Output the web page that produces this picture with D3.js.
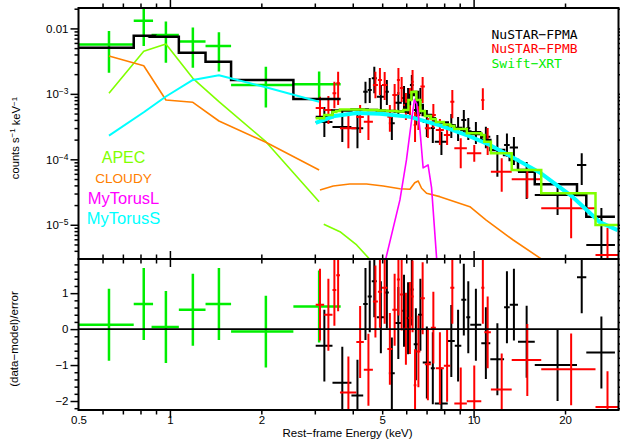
<!DOCTYPE html>
<html>
<head>
<meta charset="utf-8">
<script src="https://cdn.jsdelivr.net/npm/d3@7"></script>
<style>
  body { margin: 0; background: #fff; }
  svg { display: block; font-family: "Liberation Sans", Arial, Helvetica, sans-serif; }
</style>
</head>
<body>
<svg id="chart" width="620" height="443"></svg>
<script>
// ---------- Swift-XRT (bin centre / half width in keV, counts s^-1 keV^-1) ----------
const xrtE     = [0.63, 0.82, 0.97, 1.19, 1.45, 2.07, 3.10];
const xrtDE    = [0.13, 0.06, 0.10, 0.12, 0.14, 0.48, 0.55];
const xrtRate  = [5.7e-3, 1.31e-2, 7.9e-3, 6.3e-3, 5.4e-3, 1.37e-3, 1.40e-3];
const xrtLo    = [2.1e-3, 5.4e-3, 3.0e-3, 2.5e-3, 2.2e-3, 6.2e-4, 8.1e-4];
const xrtHi    = [9.1e-3, 2.4e-2, 1.27e-2, 1.03e-2, 8.7e-3, 2.6e-3, 2.2e-3];
const xrtModel = [5.07e-3, 7.74e-3, 7.47e-3, 4.26e-3, 3.10e-3, 1.63e-3, 8.36e-4];
const xrtResid = [0.12, 0.70, 0.06, 0.54, 0.70, -0.07, 0.63];
// model components folded through the XRT response
const xrtApec   = [1.02e-3, 4.47e-3, 5.78e-3, 1.73e-3, 7.59e-4, 1.86e-4, 2.25e-5];
const xrtCloudy = [3.79e-3, 2.69e-3, 8.06e-4, 7.43e-4, 3.85e-4, 1.82e-4, 6.87e-5];
const xrtTorusS = [2.30e-4, 5.23e-4, 9.12e-4, 1.63e-3, 1.92e-3, 1.26e-3, 7.59e-4];

// ---------- NuSTAR FPMA (bin edges in keV) ----------
const fpmaEdges = [3.02, 3.43, 3.96, 4.33, 4.48, 4.62, 4.80, 5.10, 5.26, 5.50, 5.80, 6.00, 6.17, 6.35, 6.56,
                   6.80, 7.23, 7.45, 8.22, 8.67, 9.11, 9.46, 9.75, 10.6, 11.35, 12.6, 13.15, 14.0, 15.9, 21.9, 23.5, 29.2];
const fpmaRate  = [3.72e-4, 3.12e-4, 2.98e-4, 1.08e-3, 1.15e-3, 1.73e-3, 9.06e-4, 1.08e-3, 3.55e-4, 7.33e-4,
                   8.65e-4, 8.06e-4, 1.37e-3, 5.67e-4, 8.06e-4, 3.72e-4, 3.01e-4, 1.86e-4, 3.34e-4, 3.01e-4,
                   3.99e-4, 2.98e-4, 2.61e-4, 2.22e-4, 1.39e-4, 1.66e-4, 1.52e-4, 6.40e-5, 2.85e-5, 8.19e-5, 4.91e-6];
const fpmaLo    = [2.19e-4, 1.84e-4, 1.47e-4, 7.18e-4, 7.26e-4, 1.02e-3, 5.67e-4, 6.76e-4, 1.97e-4, 4.59e-4,
                   5.28e-4, 4.92e-4, 8.06e-4, 3.34e-4, 4.92e-4, 2.19e-4, 1.78e-4, 1.16e-4, 2.12e-4, 1.90e-4,
                   2.35e-4, 1.97e-4, 1.71e-4, 1.47e-4, 5.43e-5, 1.10e-4, 8.19e-5, 2.48e-5, 1.41e-5, 4.06e-5, 1.0e-6];
const fpmaHi    = [6.30e-4, 5.67e-4, 4.75e-4, 1.53e-3, 1.75e-3, 2.60e-3, 1.37e-3, 1.63e-3, 5.05e-4, 1.07e-3,
                   1.32e-3, 1.23e-3, 1.94e-3, 8.65e-4, 1.23e-3, 5.67e-4, 4.59e-4, 2.64e-4, 4.92e-4, 4.43e-4,
                   5.67e-4, 4.28e-4, 3.72e-4, 3.15e-4, 2.35e-4, 2.49e-4, 2.19e-4, 9.10e-5, 3.82e-5, 1.24e-4, 1.80e-5];
const fpmaModel = [4.43e-4, 5.57e-4, 5.77e-4, 5.77e-4, 5.67e-4, 5.67e-4, 5.57e-4, 5.47e-4, 5.47e-4, 5.38e-4,
                   5.38e-4, 7.00e-4, 9.61e-4, 1.07e-3, 6.76e-4, 4.75e-4, 4.24e-4, 3.66e-4, 3.29e-4, 3.01e-4,
                   2.81e-4, 2.66e-4, 2.44e-4, 1.97e-4, 1.39e-4, 1.16e-4, 9.77e-5, 6.87e-5, 4.15e-5, 2.85e-5, 1.33e-5];
const fpmaResid = [-0.46, -1.49, -1.85, 0.70, 0.91, 1.33, 0.33, 1.02, -1.23, 0.17, 0.51, 0.30, 1.10, -0.42, 0.40,
                   -0.93, -1.09, -2.07, -0.33, -0.46, 0.82, 0.33, 0.12, -0.39, -0.84, 0.61, 0.68, -0.35, -1.00, 1.44, -0.65];

// ---------- NuSTAR FPMB ----------
const fpmbEdges = [3.02, 3.22, 3.43, 3.53, 3.63, 4.11, 4.35, 4.66, 4.84, 4.99, 5.20, 5.40, 5.59, 5.72, 5.87, 6.10,
                   6.24, 6.35, 6.48, 6.68, 6.91, 7.23, 7.51, 7.98, 8.38, 8.64, 9.50, 10.6, 10.85, 11.4, 13.35, 16.7, 25.2, 30.0];
const fpmbRate  = [6.08e-4, 5.67e-4, 1.02e-3, 1.45e-3, 2.98e-4, 4.43e-4, 3.76e-4, 1.37e-3, 1.63e-3, 1.37e-3,
                   4.48e-4, 9.61e-4, 1.63e-3, 1.23e-3, 6.76e-4, 8.06e-4, 1.53e-3, 3.35e-4, 4.75e-4, 1.29e-3,
                   2.98e-4, 4.75e-4, 2.81e-4, 2.35e-4, 7.59e-4, 1.47e-4, 1.24e-4, 8.06e-4, 1.97e-4, 6.47e-5,
                   4.95e-5, 1.79e-5, 3.45e-6];
const fpmbLo    = [3.72e-4, 3.46e-4, 6.02e-4, 6.76e-4, 1.47e-4, 2.52e-4, 1.97e-4, 8.56e-4, 9.61e-4, 8.06e-4,
                   2.64e-4, 5.67e-4, 9.61e-4, 7.51e-4, 3.99e-4, 4.75e-4, 9.61e-4, 1.84e-4, 2.81e-4, 7.25e-4,
                   2.12e-4, 3.01e-4, 1.66e-4, 1.66e-4, 4.23e-4, 7.29e-5, 9.20e-5, 5.67e-4, 1.16e-4, 3.20e-5,
                   2.54e-5, 6.22e-6, 1.0e-6];
const fpmbHi    = [9.05e-4, 9.28e-4, 1.53e-3, 2.18e-3, 4.75e-4, 6.76e-4, 5.34e-4, 2.18e-3, 2.48e-3, 2.16e-3,
                   6.76e-4, 1.41e-3, 2.48e-3, 1.81e-3, 1.03e-3, 1.23e-3, 2.31e-3, 5.28e-4, 7.25e-4, 1.81e-3,
                   4.28e-4, 7.00e-4, 4.13e-4, 3.35e-4, 1.15e-3, 2.10e-4, 1.66e-4, 1.22e-3, 3.01e-4, 1.04e-4,
                   6.87e-5, 3.03e-5, 8.93e-6];
const fpmbModel = [4.23e-4, 4.75e-4, 5.28e-4, 5.48e-4, 5.77e-4, 5.77e-4, 5.67e-4, 5.67e-4, 5.57e-4, 5.57e-4,
                   5.48e-4, 5.48e-4, 5.38e-4, 5.38e-4, 5.67e-4, 8.06e-4, 1.07e-3, 1.08e-3, 8.06e-4, 5.48e-4,
                   4.59e-4, 4.13e-4, 3.72e-4, 3.40e-4, 3.23e-4, 2.91e-4, 2.50e-4, 2.35e-4, 1.86e-4, 1.24e-4,
                   6.87e-5, 3.03e-5, 9.92e-6];
const fpmbResid = [0.68, 0.40, 1.09, 1.50, -1.76, -0.36, -1.13, 0.77, 1.04, 1.15, -0.55, 0.54, 1.38, 0.96, 0.01,
                   0.31, 0.91, -1.56, -0.62, 0.86, -0.98, 0.04, -1.09, -1.02, 1.15, -2.07, -2.01, 1.15, -0.09,
                   -1.68, -0.86, -1.12, -2.17];

// ---------- model components folded through the NuSTAR response ----------
const apecNuE    = [3.21, 3.63, 4.12, 4.55, 5.10];
const apecNu     = [1.02e-5, 7.85e-6, 4.92e-6, 2.97e-6, 1.5e-6];
const cloudyNuE  = [3.12, 3.45, 3.91, 4.44, 5.04, 5.72, 6.17, 6.40, 6.57, 6.74, 7.00, 7.74, 9.72, 11.0, 13.5, 16.9];
const cloudyNu   = [3.40e-5, 3.92e-5, 4.20e-5, 4.20e-5, 3.92e-5, 3.56e-5, 3.48e-5, 4.40e-5, 4.67e-5, 3.61e-5,
                    3.03e-5, 2.69e-5, 1.89e-5, 1.18e-5, 5.85e-6, 2.90e-6];
const torusLE    = [5.03, 5.72, 6.01, 6.25, 6.38, 6.50, 6.65, 6.82, 7.08, 7.27, 7.57, 7.69];
const torusL     = [2.0e-6, 2.4e-5, 9.8e-5, 4.0e-4, 8.1e-4, 7.0e-4, 3.0e-4, 7.4e-5, 8.2e-5, 3.7e-5, 2.7e-6, 2.0e-6];
const torusSNuE  = [3.02, 3.49, 4.12, 4.91, 6.17, 7.74, 9.48, 11.3, 12.8, 14.2, 16.5, 21.2, 26.0, 29.8];
const torusSNu   = [3.6e-4, 4.6e-4, 5.1e-4, 4.95e-4, 4.45e-4, 3.3e-4, 2.35e-4, 1.66e-4, 1.22e-4, 9.3e-5,
                    6.3e-5, 2.66e-5, 1.10e-5, 8.3e-6];

// ---------- axis ticks and labels ----------
const energyLabels = [0.5, 1, 2, 5, 10, 20];
const energyMajor  = [1, 10];
const energyMinor  = [0.6, 0.7, 0.8, 0.9, 2, 3, 4, 5, 6, 7, 8, 9, 20];
const rateMajor    = [1e-2, 1e-3, 1e-4, 1e-5];
const rateLabels   = [["0.01", ""], ["10", "\u22123"], ["10", "\u22124"], ["10", "\u22125"]];
const residMajor   = [-2, -1, 0, 1];
const legendData   = ["NuSTAR\u2212FPMA", "NuSTAR\u2212FPMB", "Swift\u2212XRT"];
const legendComp   = ["APEC", "CLOUDY", "MyTorusL", "MyTorusS"];

const C = { fpma: "#000000", fpmb: "#ff0000", xrt: "#00ee00", lime: "#80ff00",
            orange: "#ff8000", magenta: "#ff00ff", cyan: "#00ffff" };

// ---------- layout ----------
const X0 = 78.5, X1 = 618.5, YT = 8, YM = 259, YB = 410;
const svg = d3.select("#chart");
const x  = d3.scaleLog().domain([0.5, 30]).range([X0, X1]);
const yU = d3.scaleLog().domain([3.0e-6, 0.0205]).range([YM, YT]);
const yL = d3.scaleLinear().domain([-2.25, 1.95]).range([YB, YM]);

const defs = svg.append("defs");
defs.append("clipPath").attr("id", "clipU").append("rect")
  .attr("x", X0).attr("y", YT).attr("width", X1 - X0).attr("height", YM - YT);
defs.append("clipPath").attr("id", "clipL").append("rect")
  .attr("x", X0).attr("y", YM).attr("width", X1 - X0).attr("height", YB - YM);

const upper = svg.append("g").attr("clip-path", "url(#clipU)");
const lower = svg.append("g").attr("clip-path", "url(#clipL)");

// gather bins
const mid = (a, b) => (a + b) / 2;
const xrtBins = xrtE.map((e, i) => ({ lo: e - xrtDE[i], hi: e + xrtDE[i], c: e, r: xrtRate[i],
  el: xrtLo[i], eh: xrtHi[i], m: xrtModel[i], res: xrtResid[i] }));
const nuBins = (edges, rate, lo, hi, model, resid) => rate.map((r, i) => ({
  lo: edges[i], hi: edges[i + 1], c: mid(edges[i], edges[i + 1]), r, el: lo[i], eh: hi[i], m: model[i], res: resid[i] }));
const fpmaBins = nuBins(fpmaEdges, fpmaRate, fpmaLo, fpmaHi, fpmaModel, fpmaResid);
const fpmbBins = nuBins(fpmbEdges, fpmbRate, fpmbLo, fpmbHi, fpmbModel, fpmbResid);

// data crosses: horizontal bar over the bin, vertical error bar at its centre
function crosses(g, bins, color, width, yScale, resid) {
  const grp = g.append("g").attr("stroke", color).attr("stroke-width", width);
  grp.selectAll("line.h").data(bins).join("line").attr("class", "h")
    .attr("x1", d => x(d.lo)).attr("x2", d => x(d.hi))
    .attr("y1", d => yScale(resid ? d.res : d.r)).attr("y2", d => yScale(resid ? d.res : d.r));
  grp.selectAll("line.v").data(bins).join("line").attr("class", "v")
    .attr("x1", d => x(d.c)).attr("x2", d => x(d.c))
    .attr("y1", d => yScale(resid ? d.res - 1 : d.el)).attr("y2", d => yScale(resid ? d.res + 1 : d.eh));
}

// folded model as a histogram over the bins
function steps(bins) {
  const p = d3.path();
  bins.forEach((b, i) => {
    if (i === 0) p.moveTo(x(b.lo), yU(b.m)); else p.lineTo(x(b.lo), yU(b.m));
    p.lineTo(x(b.hi), yU(b.m));
  });
  return p.toString();
}

const line = d3.line().x(d => x(d[0])).y(d => yU(d[1]));
const pairs = (es, vs) => es.map((e, i) => [e, vs[i]]);
const comp = (data, color, w) => upper.append("path").attr("d", line(data))
  .attr("fill", "none").attr("stroke", color).attr("stroke-width", w).attr("stroke-linejoin", "round");
const stepPath = (bins, color) => upper.append("path").attr("d", steps(bins))
  .attr("fill", "none").attr("stroke", color).attr("stroke-width", 2.5);

// ---------- upper panel ----------
crosses(upper, xrtBins, C.xrt, 2.5, yU, false);
crosses(upper, fpmaBins, C.fpma, 2, yU, false);
crosses(upper, fpmbBins, C.fpmb, 2, yU, false);

stepPath(xrtBins, C.fpma);
stepPath(fpmaBins, C.fpma);
comp(pairs(torusSNuE, torusSNu), C.cyan, 4);
stepPath(fpmbBins, C.lime);

comp(pairs(xrtE, xrtApec), C.lime, 1.6);
comp(pairs(apecNuE, apecNu), C.lime, 1.6);
comp(pairs(xrtE, xrtCloudy), C.orange, 1.6);
comp(pairs(cloudyNuE, cloudyNu), C.orange, 1.6);
comp(pairs(torusLE, torusL), C.magenta, 1.6);
comp(pairs(xrtE, xrtTorusS), C.cyan, 2);

// ---------- lower panel (residuals) ----------
crosses(lower, xrtBins, C.xrt, 2.5, yL, true);
crosses(lower, fpmaBins, C.fpma, 2, yL, true);
crosses(lower, fpmbBins, C.fpmb, 2, yL, true);
lower.append("line").attr("x1", X0).attr("x2", X1).attr("y1", yL(0)).attr("y2", yL(0))
  .attr("stroke", "#000").attr("stroke-width", 1.6);

// ---------- frames and ticks ----------
function tickSet(axisFn, scale, values, size, tx, ty) {
  const a = axisFn(scale).tickValues(values).tickSizeInner(-size).tickSizeOuter(0).tickFormat("");
  const g = svg.append("g").attr("transform", `translate(${tx},${ty})`).call(a);
  g.select(".domain").remove();
  g.selectAll(".tick line").attr("stroke", "#000").attr("stroke-width", 1.5);
  g.selectAll("text").remove();
  return g;
}
const rateMinor = [];
[1e-6, 1e-5, 1e-4, 1e-3, 1e-2].forEach(dec => {
  for (let k = 2; k <= 9; k++) { const v = k * dec; if (v > 3.0e-6 && v < 0.0205) rateMinor.push(v); }
});
const residMinor = d3.range(-22, 19, 2).map(v => v / 10).filter(v => Math.abs(v % 1) > 1e-9);

// x ticks point into each panel: top and bottom edges of both frames
[[YT, d3.axisBottom], [YM, d3.axisTop], [YM, d3.axisBottom], [YB, d3.axisTop]].forEach(([yy, fn]) => {
  tickSet(fn, x, energyMajor, 8, 0, yy);
  tickSet(fn, x, energyMinor, 4.5, 0, yy);
});
tickSet(d3.axisRight, yU, rateMajor, 8, X0, 0);
tickSet(d3.axisRight, yU, rateMinor, 4, X0, 0);
tickSet(d3.axisLeft, yU, rateMajor, 8, X1, 0);
tickSet(d3.axisLeft, yU, rateMinor, 4, X1, 0);
tickSet(d3.axisRight, yL, residMajor, 8, X0, 0);
tickSet(d3.axisRight, yL, residMinor, 4, X0, 0);
tickSet(d3.axisLeft, yL, residMajor, 8, X1, 0);
tickSet(d3.axisLeft, yL, residMinor, 4, X1, 0);

svg.append("rect").attr("x", X0).attr("y", YT).attr("width", X1 - X0).attr("height", YM - YT)
  .attr("fill", "none").attr("stroke", "#000").attr("stroke-width", 2);
svg.append("rect").attr("x", X0).attr("y", YM).attr("width", X1 - X0).attr("height", YB - YM)
  .attr("fill", "none").attr("stroke", "#000").attr("stroke-width", 2);

// ---------- tick labels ----------
const labelFont = 11.5;
const sansFont = '"Liberation Sans", Arial, Helvetica, sans-serif';
const gx = svg.append("g").attr("transform", `translate(0,${YB})`)
  .call(d3.axisBottom(x).tickValues(energyLabels).tickSize(0).tickPadding(5.8).tickFormat(d => String(d)));
gx.select(".domain").remove();
gx.selectAll("text").attr("font-size", labelFont).attr("fill", "#000").attr("font-family", sansFont);

const gyU = svg.append("g").attr("transform", `translate(${X0},0)`)
  .call(d3.axisLeft(yU).tickValues(rateMajor).tickSize(0).tickPadding(10).tickFormat(""));
gyU.select(".domain").remove();
gyU.selectAll(".tick text").each(function (d, i) {
  const [base, sup] = rateLabels[i];
  const t = d3.select(this).attr("font-size", labelFont).attr("fill", "#000").attr("font-family", sansFont).text(base);
  if (sup) t.append("tspan").attr("dy", "-0.42em").attr("font-size", 8.5).text(sup);
});

const gyL = svg.append("g").attr("transform", `translate(${X0},0)`)
  .call(d3.axisLeft(yL).tickValues(residMajor).tickSize(0).tickPadding(10)
    .tickFormat(d => d < 0 ? "\u2212" + Math.abs(d) : String(d)));
gyL.select(".domain").remove();
gyL.selectAll("text").attr("font-size", labelFont).attr("fill", "#000").attr("font-family", sansFont);

// ---------- axis titles ----------
const t1 = svg.append("text").attr("transform", "translate(18.5,138) rotate(-90)")
  .attr("text-anchor", "middle").attr("font-size", 11.2).attr("fill", "#000");
t1.append("tspan").text("counts s");
t1.append("tspan").attr("dy", "-0.4em").attr("font-size", 8).text("\u22121");
t1.append("tspan").attr("dy", "0.4em").text(" keV");
t1.append("tspan").attr("dy", "-0.4em").attr("font-size", 8).text("\u22121");

svg.append("text").attr("transform", "translate(18,339) rotate(-90)")
  .attr("text-anchor", "middle").attr("font-size", 11.5).attr("fill", "#000").text("(data\u2212model)/error");

svg.append("text").attr("x", 347.5).attr("y", 437).attr("text-anchor", "middle")
  .attr("font-size", 11.5).attr("fill", "#000").text("Rest\u2212frame Energy (keV)");

// ---------- legends ----------
const legColors = [C.fpma, C.fpmb, C.xrt];
svg.append("g").selectAll("text").data(legendData).join("text")
  .attr("x", 491.5).attr("y", (d, i) => 38.8 + i * 14.5)
  .style("font-family", "'DejaVu Sans Mono', monospace").attr("font-size", 13)
  .attr("fill", (d, i) => legColors[i]).text(d => d);

const compStyle = [
  { color: C.lime, size: 16, y: 163.3 },
  { color: C.orange, size: 13.6, y: 182.6 },
  { color: C.magenta, size: 16.5, y: 203.6 },
  { color: C.cyan, size: 16.5, y: 223.6 }
];
svg.append("g").selectAll("text").data(legendComp).join("text")
  .attr("x", 123.5).attr("y", (d, i) => compStyle[i].y).attr("text-anchor", "middle")
  .attr("font-size", (d, i) => compStyle[i].size).attr("fill", (d, i) => compStyle[i].color).text(d => d);
</script>
</body>
</html>
